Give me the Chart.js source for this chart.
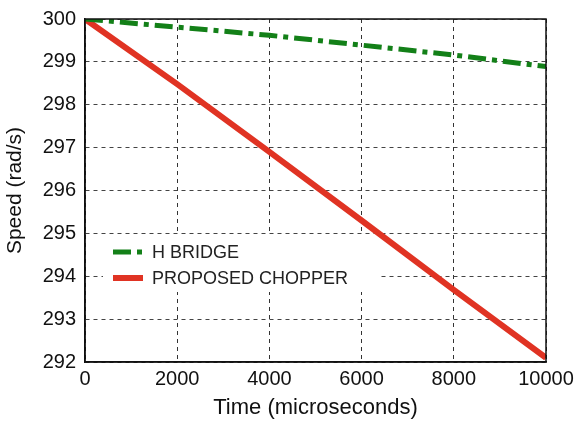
<!DOCTYPE html>
<html>
<head>
<meta charset="utf-8">
<script src="https://cdn.jsdelivr.net/npm/chart.js@4.4.1/dist/chart.umd.min.js"></script>
<style>
  html, body { margin: 0; padding: 0; background: #fff; }
  #wrap { width: 574px; height: 421px; }
</style>
</head>
<body>
<div id="wrap"><canvas id="c" width="574" height="421"></canvas></div>
<script>
// values
const timeUs = [0, 2000, 4000, 6000, 8000, 10000];
const hBridge = [300, 299.81, 299.62, 299.39, 299.16, 298.89];
const chopper = [300, 298.48, 296.9, 295.3, 293.68, 292.1];
const xTicks = [0, 2000, 4000, 6000, 8000, 10000];
const yTicks = [292, 293, 294, 295, 296, 297, 298, 299, 300];

const FONT = '"Liberation Sans", Arial, Helvetica, sans-serif';

function toPoints(ys) {
  return timeUs.map((t, i) => ({ x: t, y: ys[i] }));
}

// white legend box hides the grid behind it
const legendBoxPlugin = {
  id: 'legendBox',
  beforeDatasetsDraw(chart) {
    const { ctx, chartArea: a } = chart;
    ctx.save();
    ctx.fillStyle = '#fff';
    ctx.fillRect(a.left + 18, a.top + 216, 275, 57);
    ctx.restore();
  }
};

// frame round the plot + legend inside it
const framePlugin = {
  id: 'frame',
  afterDraw(chart) {
    const { ctx, chartArea: a } = chart;
    ctx.save();
    ctx.strokeStyle = '#111';
    ctx.lineWidth = 1.5;
    ctx.setLineDash([]);
    ctx.strokeRect(a.left, a.top, a.right - a.left, a.bottom - a.top);

    // legend
    const lx = a.left + 28, ly = a.top + 233, gap = 26;
    chart.data.datasets.forEach((ds, i) => {
      const y = ly + i * gap;
      ctx.beginPath();
      ctx.strokeStyle = ds.borderColor;
      ctx.lineWidth = ds.borderWidth;
      ctx.setLineDash(ds.borderDash || []);
      ctx.moveTo(lx, y);
      ctx.lineTo(lx + 30, y);
      ctx.stroke();
      ctx.setLineDash([]);
      ctx.fillStyle = '#222';
      ctx.font = '18px ' + FONT;
      ctx.textBaseline = 'middle';
      ctx.fillText(ds.label, lx + 39, y + 1);
    });
    ctx.restore();
  }
};

new Chart(document.getElementById('c'), {
  type: 'line',
  data: {
    datasets: [
      {
        label: 'H BRIDGE',
        data: toPoints(hBridge),
        borderColor: '#138018',
        borderWidth: 5,
        borderDash: [18, 6, 5, 6],
        pointRadius: 0,
        tension: 0,
        fill: false
      },
      {
        label: 'PROPOSED CHOPPER',
        data: toPoints(chopper),
        borderColor: '#e03323',
        borderWidth: 6,
        pointRadius: 0,
        tension: 0,
        fill: false
      }
    ]
  },
  options: {
    responsive: false,
    animation: false,
    layout: { padding: { top: 19, right: 28, left: 0, bottom: 0 } },
    plugins: {
      legend: { display: false },
      tooltip: { enabled: false }
    },
    scales: {
      x: {
        type: 'linear',
        min: xTicks[0],
        max: xTicks[xTicks.length - 1],
        afterBuildTicks(scale) { scale.ticks = xTicks.map(v => ({ value: v })); },
        afterFit(scale) {
          scale.height = 59;
          scale.paddingLeft = 0;
          scale.paddingRight = 0;
        },
        ticks: {
          color: '#111',
          font: { family: FONT, size: 20 },
          padding: 5,
          maxRotation: 0,
          callback: v => String(v)
        },
        grid: { color: '#333', lineWidth: 1, drawTicks: false },
        border: { color: '#111', width: 1.5, dash: [4, 4] },
        title: {
          display: true,
          text: 'Time (microseconds)',
          color: '#111',
          font: { family: FONT, size: 22 },
          padding: { top: 2, bottom: 0 }
        }
      },
      y: {
        min: yTicks[0],
        max: yTicks[yTicks.length - 1],
        afterBuildTicks(scale) { scale.ticks = yTicks.map(v => ({ value: v })); },
        afterFit(scale) {
          scale.width = 85;
          scale.paddingTop = 0;
          scale.paddingBottom = 0;
        },
        ticks: {
          color: '#111',
          font: { family: FONT, size: 20 },
          padding: 9,
          callback: v => String(v)
        },
        grid: { color: '#444', lineWidth: 1, drawTicks: false },
        border: { color: '#111', width: 1.5, dash: [4, 4] },
        title: {
          display: true,
          text: 'Speed (rad/s)',
          color: '#111',
          font: { family: FONT, size: 21 },
          padding: { top: 3, bottom: 0 }
        }
      }
    }
  },
  plugins: [legendBoxPlugin, framePlugin]
});
</script>
</body>
</html>
